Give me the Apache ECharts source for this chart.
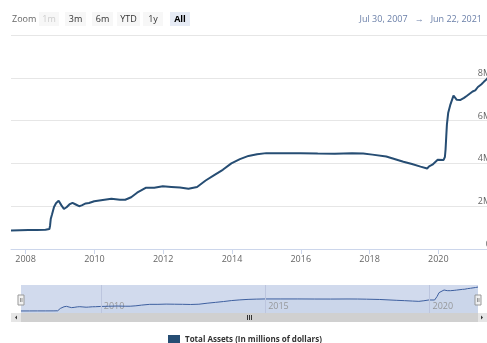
<!DOCTYPE html>
<html>
<head>
<meta charset="utf-8">
<script src="https://cdn.jsdelivr.net/npm/echarts@6/dist/echarts.min.js"></script>
<style>
  html, body { margin: 0; padding: 0; background: #fff; }
  #chart { width: 487px; height: 343px; }
</style>
</head>
<body>
<div id="chart"></div>
<script>
// Fed total assets, millions of dollars
const dates = [
  '2007-07-30', '2007-10-31', '2008-01-30', '2008-04-30', '2008-07-30', '2008-09-10',
  '2008-09-17', '2008-09-24', '2008-10-08', '2008-10-29', '2008-11-19', '2008-12-17',
  '2009-01-14', '2009-02-11', '2009-03-11', '2009-04-15', '2009-05-13', '2009-06-17',
  '2009-07-22', '2009-08-19', '2009-09-30', '2009-11-04', '2009-12-30', '2010-03-31',
  '2010-06-30', '2010-09-29', '2010-11-24', '2011-01-26', '2011-03-30', '2011-06-29',
  '2011-09-28', '2011-12-28', '2012-03-28', '2012-06-27', '2012-09-26', '2012-12-26',
  '2013-03-27', '2013-06-26', '2013-09-25', '2013-12-25', '2014-03-26', '2014-06-25',
  '2014-09-24', '2014-12-31', '2015-06-24', '2015-12-30', '2016-06-29', '2016-12-28',
  '2017-06-28', '2017-10-25', '2018-01-31', '2018-06-27', '2018-12-26', '2019-03-27',
  '2019-06-26', '2019-09-04', '2019-09-25', '2019-10-30', '2019-12-25', '2020-02-26',
  '2020-03-04', '2020-03-11', '2020-03-18', '2020-03-25', '2020-04-01', '2020-04-15',
  '2020-05-06', '2020-06-10', '2020-06-17', '2020-07-15', '2020-08-19', '2020-09-30',
  '2020-10-28', '2020-12-30', '2021-01-27', '2021-02-24', '2021-03-31', '2021-04-28',
  '2021-05-26', '2021-06-22'
];
const assets = [
  870000, 880000, 890000, 890000, 900000, 930000,
  1100000, 1400000, 1620000, 1960000, 2140000, 2260000,
  2050000, 1870000, 1950000, 2100000, 2160000, 2080000,
  2000000, 2040000, 2130000, 2150000, 2230000, 2290000,
  2350000, 2300000, 2300000, 2420000, 2630000, 2860000,
  2860000, 2930000, 2900000, 2870000, 2820000, 2900000,
  3200000, 3450000, 3700000, 4000000, 4200000, 4350000,
  4430000, 4480000, 4480000, 4480000, 4460000, 4450000,
  4470000, 4460000, 4410000, 4320000, 4080000, 3970000,
  3850000, 3760000, 3860000, 3940000, 4170000, 4160000,
  4240000, 4310000, 4670000, 5250000, 5810000, 6370000,
  6720000, 7170000, 7140000, 6970000, 6960000, 7060000,
  7150000, 7360000, 7410000, 7570000, 7690000, 7810000,
  7920000, 8060000
];
const yTicks = [0, 2000000, 4000000, 6000000, 8000000, 10000000];
const xYears = [2008, 2010, 2012, 2014, 2016, 2018, 2020];
const navYears = [2010, 2015, 2020];
const zoomButtons = ['1m', '3m', '6m', 'YTD', '1y', 'All'];
const rangeFrom = 'Jul 30, 2007';
const rangeTo = 'Jun 22, 2021';
const seriesName = 'Total Assets (In millions of dollars)';

const points = dates.map((d, i) => [Date.parse(d), assets[i]]);
const xMin = Date.parse(dates[0]);
const xMax = Date.parse(dates[dates.length - 1]);
const yearStart = y => Date.UTC(y, 0, 1);
const yearOf = v => String(new Date(v).getUTCFullYear());
const font = 'Open Sans';

let myChart = echarts.init(document.getElementById('chart'));

// range selector buttons
const btnX = [39, 65, 92, 117, 143, 170];
const btnW = [20, 21, 21, 23, 20, 20];
const buttons = [];
zoomButtons.forEach((b, i) => {
  const sel = b === 'All';
  buttons.push({
    type: 'rect', shape: { x: btnX[i], y: 12, width: btnW[i], height: 14 },
    style: { fill: sel ? '#e6ebf5' : '#f7f7f7' }, silent: true
  });
  buttons.push({
    type: 'text', x: btnX[i] + btnW[i] / 2, y: 19,
    style: {
      text: b, align: 'center', verticalAlign: 'middle', fontFamily: font, fontSize: 9,
      fontWeight: sel ? 'bold' : 'normal', fill: i === 0 ? '#cccccc' : (sel ? '#000' : '#333')
    }
  });
});

function handle(x) {
  return {
    type: 'group', x: x, y: 295, children: [
      { type: 'rect', shape: { x: 0, y: 0, width: 6, height: 10 }, style: { fill: '#f2f2f2', stroke: '#999', lineWidth: 1 } },
      { type: 'line', shape: { x1: 2.5, y1: 3, x2: 2.5, y2: 7 }, style: { stroke: '#999', lineWidth: 1 } },
      { type: 'line', shape: { x1: 4, y1: 3, x2: 4, y2: 7 }, style: { stroke: '#999', lineWidth: 1 } }
    ]
  };
}

myChart.setOption({
  animation: false,
  textStyle: { fontFamily: font },
  legend: {
    data: [seriesName],
    left: 168, top: 335, padding: 0,
    icon: 'rect', itemWidth: 12, itemHeight: 10, itemGap: 4,
    textStyle: { fontSize: 8, fontWeight: 'bold', color: '#333', fontFamily: font }
  },
  grid: [
    { left: 11, right: -2, top: 35, height: 214, outerBoundsMode: 'none' },
    { left: 21, width: 457, top: 285, height: 28, outerBoundsMode: 'none', show: true, backgroundColor: 'rgba(102,133,194,0.3)', borderWidth: 0 }
  ],
  xAxis: [
    {
      type: 'value', gridIndex: 0, min: xMin, max: xMax,
      axisLine: { lineStyle: { color: '#ccd6eb' } },
      axisTick: { length: 5, lineStyle: { color: '#ccd6eb' }, customValues: xYears.map(yearStart) },
      axisLabel: { customValues: xYears.map(yearStart), formatter: yearOf, color: '#666', fontSize: 9, margin: 6 },
      splitLine: { show: false }
    },
    {
      type: 'value', gridIndex: 1, min: xMin, max: xMax,
      axisLine: { show: false }, axisTick: { show: false }, splitLine: { show: false },
      axisLabel: {
        inside: true, align: 'left', margin: 2, padding: [0, 0, 0, 3],
        color: '#999', fontSize: 9,
        customValues: navYears.map(yearStart), formatter: yearOf
      }
    }
  ],
  yAxis: [
    {
      type: 'value', gridIndex: 0, position: 'right',
      min: yTicks[0], max: yTicks[yTicks.length - 1], interval: yTicks[1] - yTicks[0],
      axisLine: { show: false }, axisTick: { show: false },
      splitLine: { lineStyle: { color: '#e6e6e6' } },
      axisLabel: {
        inside: true, margin: -2, verticalAlign: 'bottom', showMaxLabel: false,
        color: '#666', fontSize: 9,
        formatter: v => v === 0 ? '0' : (v / 1e6) + 'M'
      }
    },
    {
      type: 'value', gridIndex: 1, show: false,
      min: v => v.min - (v.max - v.min) * 0.085,
      max: v => v.max + (v.max - v.min) * 0.085
    }
  ],
  series: [
    {
      name: seriesName, type: 'line', xAxisIndex: 0, yAxisIndex: 0,
      data: points, showSymbol: false, color: '#264d73',
      lineStyle: { width: 2, color: '#264d73' }
    },
    {
      name: 'navigator', type: 'line', xAxisIndex: 1, yAxisIndex: 1,
      data: points, showSymbol: false, silent: true,
      lineStyle: { width: 1, color: '#3d5f9f' },
      areaStyle: { color: 'rgba(68,102,170,0.05)' },
      markLine: {
        silent: true, symbol: 'none', label: { show: false },
        lineStyle: { color: '#bcc5de', width: 1, type: 'solid' },
        data: navYears.map(y => ({ xAxis: yearStart(y) }))
      }
    }
  ],
  graphic: [
    { type: 'text', x: 12, y: 19, style: { text: 'Zoom', verticalAlign: 'middle', fontFamily: font, fontSize: 9, fill: '#666' } },
    ...buttons,
    {
      type: 'text', x: 482, y: 19,
      style: { text: rangeFrom + '   \u2192   ' + rangeTo, align: 'right', verticalAlign: 'middle', fontFamily: font, fontSize: 9, fill: '#6a7fa8' }
    },
    // scrollbar
    { type: 'rect', shape: { x: 11, y: 313, width: 476, height: 9 }, style: { fill: '#e6e6e6' }, silent: true },
    { type: 'rect', shape: { x: 21, y: 313, width: 457, height: 9 }, style: { fill: '#d0d0d0' }, silent: true },
    { type: 'polygon', shape: { points: [[17, 315.5], [17, 319.5], [15, 317.5]] }, style: { fill: '#333' }, silent: true },
    { type: 'polygon', shape: { points: [[481, 315.5], [481, 319.5], [483, 317.5]] }, style: { fill: '#333' }, silent: true },
    { type: 'line', shape: { x1: 247.5, y1: 315, x2: 247.5, y2: 320 }, style: { stroke: '#333', lineWidth: 1 } },
    { type: 'line', shape: { x1: 249.5, y1: 315, x2: 249.5, y2: 320 }, style: { stroke: '#333', lineWidth: 1 } },
    { type: 'line', shape: { x1: 251.5, y1: 315, x2: 251.5, y2: 320 }, style: { stroke: '#333', lineWidth: 1 } },
    handle(18), handle(475)
  ]
});
</script>
</body>
</html>
